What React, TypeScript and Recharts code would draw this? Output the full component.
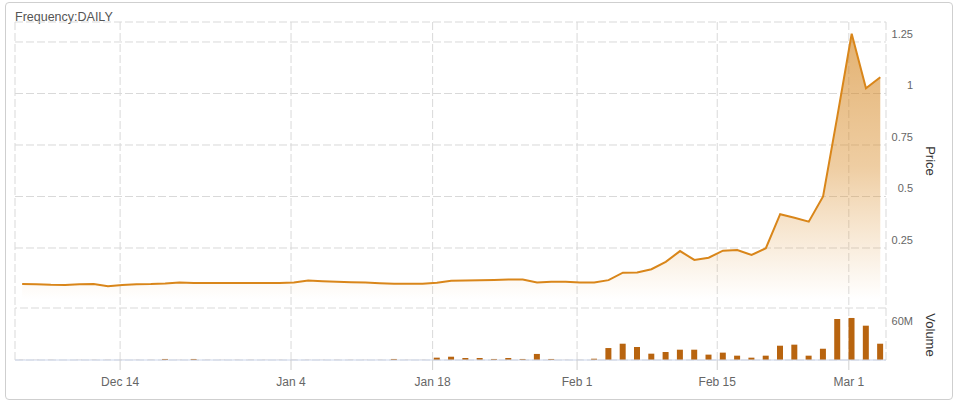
import React from 'react';
import {
  ComposedChart,
  Area,
  Bar,
  XAxis,
  YAxis,
  CartesianGrid,
  ReferenceLine
} from 'recharts';

// trading days shown on the chart
const dates = [
  'Dec 3', 'Dec 4', 'Dec 7', 'Dec 8', 'Dec 9', 'Dec 10', 'Dec 11', 'Dec 14', 'Dec 15', 'Dec 16',
  'Dec 17', 'Dec 18', 'Dec 21', 'Dec 22', 'Dec 23', 'Dec 24', 'Dec 28', 'Dec 29', 'Dec 30', 'Dec 31',
  'Jan 4', 'Jan 5', 'Jan 6', 'Jan 7', 'Jan 8', 'Jan 11', 'Jan 12', 'Jan 13', 'Jan 14', 'Jan 15',
  'Jan 19', 'Jan 20', 'Jan 21', 'Jan 22', 'Jan 25', 'Jan 26', 'Jan 27', 'Jan 28', 'Jan 29',
  'Feb 1', 'Feb 2', 'Feb 3', 'Feb 4', 'Feb 5', 'Feb 8', 'Feb 9', 'Feb 10', 'Feb 11', 'Feb 12',
  'Feb 16', 'Feb 17', 'Feb 18', 'Feb 19', 'Feb 22', 'Feb 23', 'Feb 24', 'Feb 25', 'Feb 26',
  'Mar 1', 'Mar 2', 'Mar 3'
];

const prices = [
  0.075, 0.074, 0.071, 0.070, 0.074, 0.075, 0.064, 0.070, 0.074, 0.075,
  0.078, 0.083, 0.080, 0.080, 0.080, 0.080, 0.080, 0.080, 0.080, 0.083,
  0.092, 0.089, 0.086, 0.084, 0.082, 0.079, 0.076, 0.076, 0.077, 0.081,
  0.091, 0.092, 0.093, 0.095, 0.097, 0.097, 0.083, 0.086, 0.086,
  0.083, 0.082, 0.094, 0.130, 0.131, 0.147, 0.183, 0.235, 0.192, 0.203,
  0.237, 0.240, 0.216, 0.249, 0.414, 0.397, 0.378, 0.500, 0.890,
  1.290, 1.025, 1.079
];

// volume in millions of shares
const volumes = [
  0.1, 0.1, 0.1, 0.1, 0.1, 0.1, 0.1, 0.1, 0.1, 0.1,
  1.2, 0.1, 1.2, 0.1, 0.1, 0.1, 0.1, 0.1, 0.1, 0.1,
  0.1, 0.1, 0.1, 0.1, 0.1, 0.1, 1.2, 0.1, 0.1, 2.7,
  3.8, 2.3, 2.3, 1.2, 2.3, 1.2, 7.0, 1.2, 0.1,
  0.1, 1.5, 13.8, 18.8, 15.0, 7.3, 9.2, 11.9, 11.9, 6.2,
  8.5, 5.0, 2.7, 5.0, 16.5, 17.7, 5.0, 13.0, 47.3,
  48.5, 39.6, 18.8
];

const xTickPos = [6.85, 18.8, 28.7, 38.8, 48.6, 57.8];
const xTickLabels = ['Dec 14', 'Jan 4', 'Jan 18', 'Feb 1', 'Feb 15', 'Mar 1'];
const priceTicks = [0.25, 0.5, 0.75, 1, 1.25];
const volumeTick = 60;

const data = dates.map((d, i) => ({ i, date: d, price: prices[i], volume: volumes[i] }));

const font = '"Liberation Sans", Arial, sans-serif';

const PriceTick = (props: any) => {
  const { y, payload } = props;
  return (
    <text x={913} y={y - 4} textAnchor="end" fontSize={11} fill="#666" fontFamily={font}>
      {payload.value}
    </text>
  );
};

const volumeLabel = (props: any) => (
  <text x={913} y={props.viewBox.y + 17} textAnchor="end" fontSize={11} fill="#666" fontFamily={font}>
    {volumeTick}M
  </text>
);

const axisTitle: React.CSSProperties = {
  position: 'absolute',
  transform: 'translate(-50%, -50%) rotate(90deg)',
  fontSize: 13,
  lineHeight: '13px',
  color: '#333',
  whiteSpace: 'nowrap',
  fontFamily: font
};

export default function App() {
  return (
    <div style={{ position: 'absolute', left: 0, top: 0, width: 960, height: 407, background: '#fff' }}>
      <div
        style={{
          position: 'absolute',
          left: 5,
          top: 2,
          width: 948,
          height: 398,
          boxSizing: 'border-box',
          border: '1px solid #cfcfcf',
          borderRadius: 4
        }}
      />
      <div
        style={{
          position: 'absolute',
          left: 15,
          top: 11,
          fontSize: 12.5,
          lineHeight: '12px',
          color: '#555',
          fontFamily: font
        }}
      >
        Frequency:DAILY
      </div>
      <div style={{ ...axisTitle, left: 930, top: 161 }}>Price</div>
      <div style={{ ...axisTitle, left: 930, top: 335 }}>Volume</div>
      <div style={{ position: 'absolute', left: 0, top: 0 }}>
        <ComposedChart
          width={960}
          height={407}
          data={data}
          margin={{ top: 22, right: 0, bottom: 7, left: 15 }}
        >
          <defs>
            <linearGradient id="priceFill" x1="0" y1="0" x2="0" y2="1">
              <stop offset="0%" stopColor="#d07d12" stopOpacity={1} />
              <stop offset="50%" stopColor="#d98c28" stopOpacity={0.72} />
              <stop offset="100%" stopColor="#e09a40" stopOpacity={0} />
            </linearGradient>
          </defs>
          <CartesianGrid
            yAxisId="price"
            stroke="#d9d9d9"
            strokeDasharray="8 3"
          />
          <XAxis
            dataKey="i"
            type="number"
            domain={[-0.5, 60.4]}
            ticks={xTickPos}
            interval={0}
            tickFormatter={(v: number) => xTickLabels[xTickPos.indexOf(v)]}
            height={40}
            tickSize={10}
            tickMargin={7}
            tickLine={{ stroke: '#d0d0d0' }}
            axisLine={{ stroke: '#ccd6eb' }}
            tick={{ fill: '#666', fontSize: 12, fontFamily: font }}
          />
          <YAxis
            yAxisId="price"
            orientation="right"
            width={74}
            domain={[-0.2937, 1.347]}
            ticks={priceTicks}
            interval={0}
            axisLine={false}
            tickLine={false}
            tick={<PriceTick />}
          />
          <YAxis yAxisId="vol" orientation="right" hide domain={[0, 390]} />
          <ReferenceLine
            yAxisId="vol"
            y={volumeTick}
            stroke="#d9d9d9"
            strokeDasharray="8 3"
            label={volumeLabel}
          />
          <Area
            yAxisId="price"
            type="linear"
            dataKey="price"
            baseValue={0}
            stroke="#d9861a"
            strokeWidth={2}
            fill="url(#priceFill)"
            dot={false}
            activeDot={false}
            isAnimationActive={false}
          />
          <Bar
            yAxisId="vol"
            dataKey="volume"
            fill="#b8640f"
            barSize={6}
            isAnimationActive={false}
          />
        </ComposedChart>
      </div>
    </div>
  );
}
